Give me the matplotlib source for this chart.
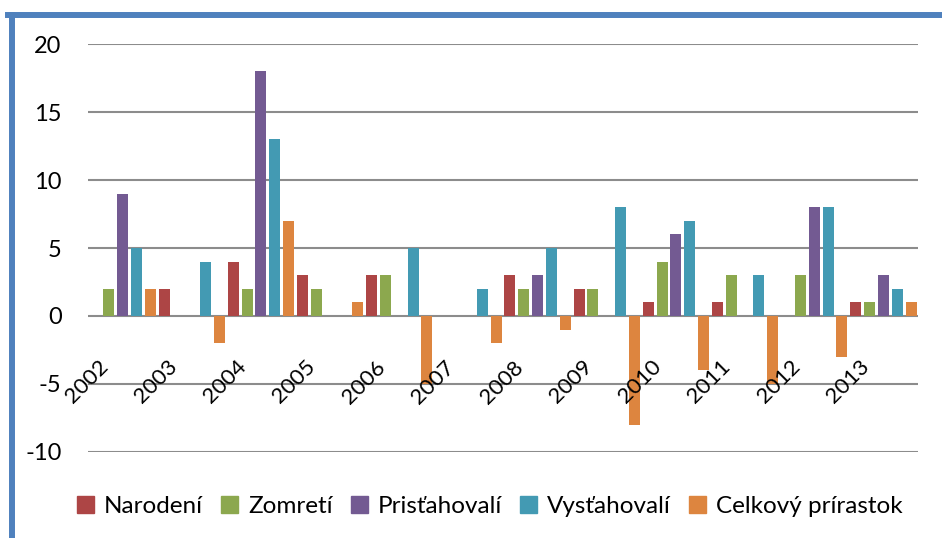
import numpy as np
import matplotlib.pyplot as plt
from matplotlib.lines import Line2D

plt.rcParams['font.family'] = ['Lato', 'DejaVu Sans']
plt.rcParams['axes.unicode_minus'] = False

# data
years = ['2002', '2003', '2004', '2005', '2006', '2007',
         '2008', '2009', '2010', '2011', '2012', '2013']
narodeni = [0, 2, 4, 3, 3, 0, 3, 2, 1, 1, 0, 1]
zomreti = [2, 0, 2, 2, 3, 0, 2, 2, 4, 3, 3, 1]
pristahovali = [9, 0, 18, 0, 0, 0, 3, 0, 6, 0, 8, 3]
vystahovali = [5, 4, 13, 0, 5, 2, 5, 8, 7, 3, 8, 2]
prirastok = [2, -2, 7, 1, -5, -2, -1, -8, -4, -5, -3, 1]

series = [narodeni, zomreti, pristahovali, vystahovali, prirastok]
names = ['Narodení', 'Zomretí', 'Prisťahovalí', 'Vysťahovalí', 'Celkový prírastok']
colors = ['#AD4545', '#8CA84E', '#735A92', '#439AB3', '#DD853F']

fig = plt.figure(figsize=(9.42, 5.38), dpi=100)
ax = fig.add_axes([0.0934, 0.160, 0.8811, 0.758])

x = np.arange(len(years))
step = 0.2
for k, (vals, name, c) in enumerate(zip(series, names, colors)):
    ax.bar(x + (k - 2) * step, vals, width=0.158, color=c,
           linewidth=0, label=name, zorder=3)

ax.set_xlim(-0.5, len(years) - 0.5)
ax.set_ylim(-10, 20)
ax.set_yticks(np.arange(-10, 21, 5))
ax.yaxis.grid(True, color='#8c8c8c', linewidth=1.5, zorder=0)
ax.tick_params(axis='y', length=0, labelsize=17, pad=19)
ax.set_xticks([])
for s in ax.spines.values():
    s.set_visible(False)

# rotated category labels sitting around the -5 line
for i, yr in enumerate(years):
    ax.text(i - 0.15, -3.0, yr, rotation=45, ha='right', va='top',
            fontsize=16, zorder=4)

handles = [plt.Rectangle((0, 0), 1, 1, color=c) for c in colors]
fig.legend(handles, names, loc='center', bbox_to_anchor=(0.52, 0.058),
           ncol=5, frameon=False, fontsize=17.5, handlelength=0.7,
           handleheight=0.7, handletextpad=0.4, columnspacing=0.75)

# blue chart border (top and left edges visible)
fig.add_artist(Line2D([0.009, 1.0], [0.972, 0.972], color='#4F81BD', lw=4.3,
                      transform=fig.transFigure))
fig.add_artist(Line2D([0.0127, 0.0127], [0.0, 0.972], color='#4F81BD', lw=4.3,
                      transform=fig.transFigure))

fig.savefig('out.png', dpi=100)
